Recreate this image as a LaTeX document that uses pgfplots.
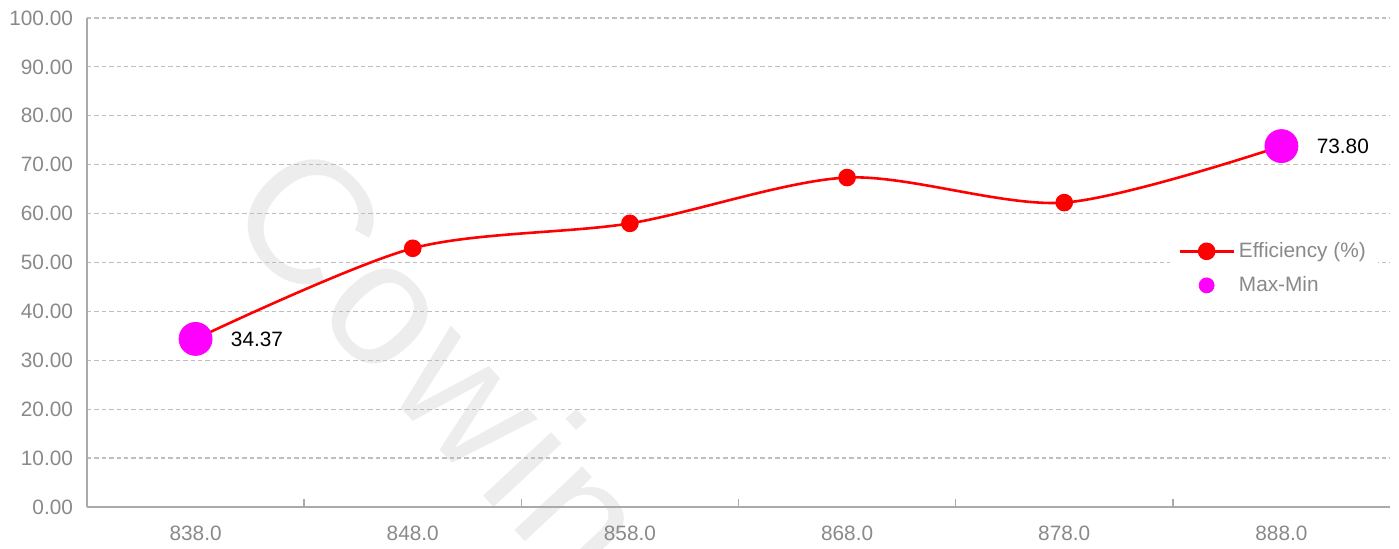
\documentclass[border=0pt]{standalone}
\usepackage{pgfplots}
\pgfplotsset{compat=1.18}
\usepackage{fontspec}
\setmainfont{Liberation Sans}
\definecolor{tickgray}{RGB}{137,137,137}
\definecolor{axisgray}{RGB}{170,170,170}
\definecolor{gridgray}{RGB}{190,190,190}
\definecolor{wmgray}{RGB}{237,237,237}
\definecolor{effred}{RGB}{255,0,0}
\definecolor{mm}{RGB}{255,0,255}
\begin{document}
\begin{tikzpicture}
\node[rotate=-47, text=wmgray, inner sep=0pt, font=\fontsize{88}{96}\selectfont\addfontfeature{LetterSpace=4}] at (178pt,73pt) {Cowin};
\begin{axis}[
  at={(0,0)}, anchor=south west,
  name=ax,
  scale only axis,
  width=651.5pt, height=244.5pt,
  xmin=-0.5, xmax=5.5, ymin=0, ymax=100,
  clip=false,
  axis x line*=bottom, axis y line*=left,
  axis line style={draw=axisgray, line width=0.75pt, -},
  xtick={0,...,5},
  xticklabels={838.0,848.0,858.0,868.0,878.0,888.0},
  minor xtick={0.5,1.5,2.5,3.5,4.5},
  major x tick style={draw=none},
  minor x tick style={draw=axisgray, line width=0.75pt},
  minor tick length=4pt,
  tick align=inside,
  ytick={0,10,...,100},
  ytick style={draw=none},
  ymajorgrids,
  grid style={draw=gridgray, dash pattern=on 2.2pt off 1.5pt, line width=0.6pt},
  /pgf/number format/assume math mode=true,
  y tick label style={/pgf/number format/fixed, /pgf/number format/fixed zerofill, /pgf/number format/precision=2, xshift=-3.5pt},
  x tick label style={yshift=-6pt},
  tick label style={font=\fontsize{10.4}{12}\selectfont, text=tickgray},
  legend style={at={(0.911,0.488)}, anchor=center, draw=none, fill=white,
    font=\fontsize{10.4}{12}\selectfont, text=tickgray, inner xsep=4pt, inner ysep=3pt, row sep=4pt},
  legend cell align=left,
]
\addplot[effred, line width=1.3pt, smooth, mark=*, mark size=3.75pt, mark options={fill=effred, draw=effred},
  legend image code/.code={\draw[effred, line width=1.3pt] (0pt,0pt) -- (27pt,0pt); \fill[effred] (13.5pt,0pt) circle (3.75pt);}]
  coordinates {(0,34.37) (1,52.9) (2,58.0) (3,67.37) (4,62.25) (5,73.80)};
\addlegendentry{Efficiency (\%)}
\addplot[only marks, mark=*, mark size=8.25pt, mark options={fill=mm, draw=mm},
  point meta=explicit symbolic,
  nodes near coords,
  nodes near coords style={anchor=west, inner sep=0pt, xshift=17.5pt, yshift=0pt, text=black, font=\fontsize{10.4}{12}\selectfont},
  legend image code/.code={\fill[mm] (13.5pt,0pt) circle (3.75pt);}]
  coordinates {(0,34.37) [34.37] (5,73.80) [73.80]};
\addlegendentry{Max-Min}
\end{axis}
\pgfresetboundingbox
\path ([xshift=-43.5pt,yshift=-21pt]ax.south west) rectangle ([xshift=4.5pt,yshift=9pt]ax.north east);
\end{tikzpicture}
\end{document}
